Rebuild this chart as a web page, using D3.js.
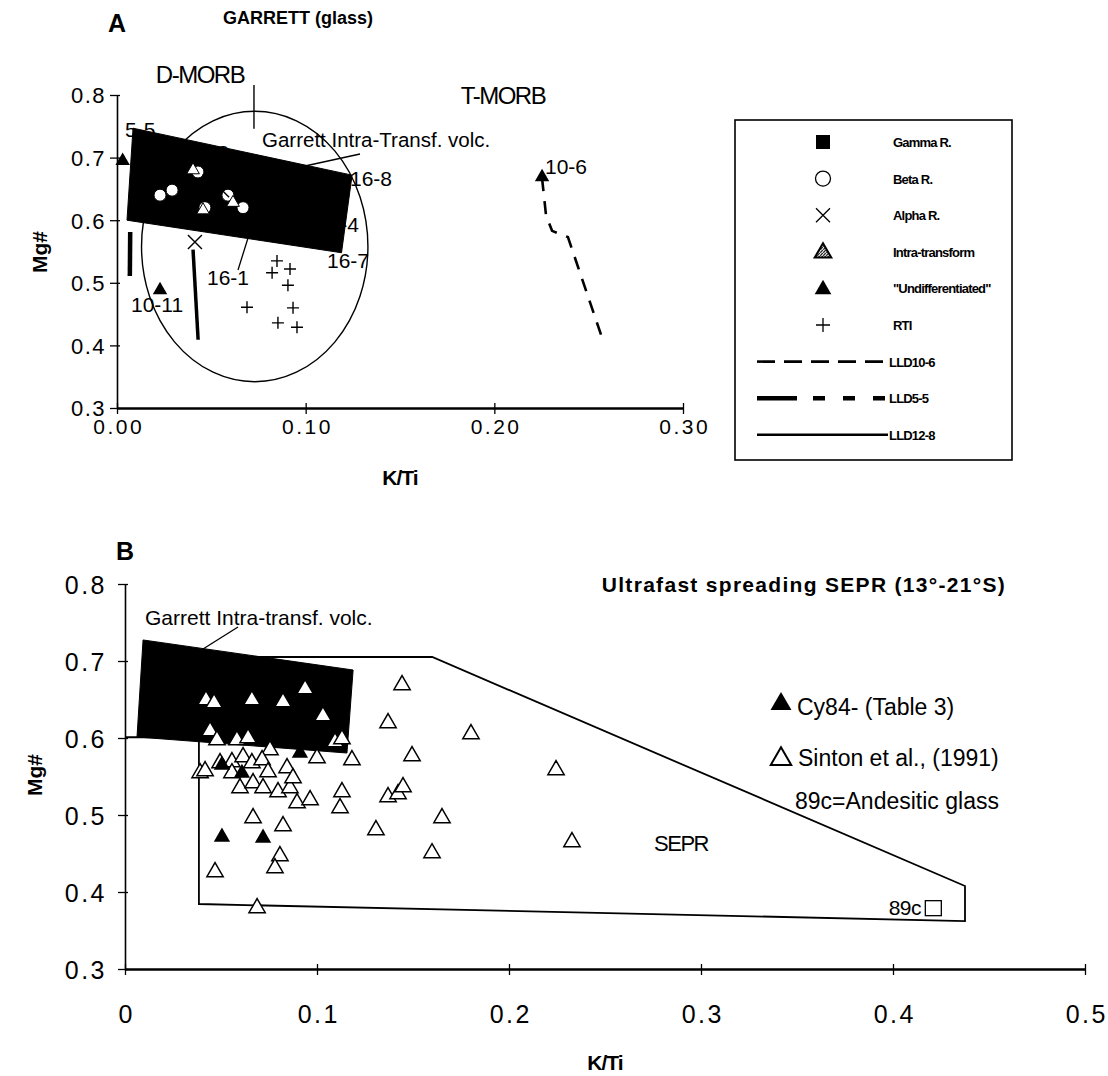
<!DOCTYPE html>
<html>
<head>
<meta charset="utf-8">
<script src="https://cdn.jsdelivr.net/npm/d3@7/dist/d3.min.js"></script>
<style>
  body { margin: 0; background: #fff; }
  svg { display: block; }
  text { font-family: "Liberation Sans", Arial, Helvetica, sans-serif; fill: #000; }
</style>
</head>
<body>
<svg id="chart" width="1108" height="1076"></svg>
<script>
// ---------- data (K/Ti, Mg#) ----------
const yTicks = [0.3, 0.4, 0.5, 0.6, 0.7, 0.8];
const xTicksA = [0, 0.1, 0.2, 0.3];
const xTicksB = [0, 0.1, 0.2, 0.3, 0.4, 0.5];

// panel A
const dmorbEllipse = [0.073, 0.558, 0.060, 0.216]; // cx, cy, rx, ry
const dmorbLeader = [[0.0726, 0.816], [0.0726, 0.746]];
const garrettFieldA = [[0.0085, 0.747], [0.1246, 0.672], [0.119, 0.548], [0.0053, 0.600]];
const betaA = [[0.0228, 0.640], [0.0292, 0.648], [0.0429, 0.677], [0.0466, 0.620], [0.0588, 0.640], [0.0668, 0.620]];
const alphaA = [[0.0557, 0.648], [0.0599, 0.597], [0.0413, 0.565], [0.049, 0.662]];
const intraA = [[0.0403, 0.680], [0.0456, 0.616], [0.0615, 0.628]];
const undiffA = [[0.003, 0.695], [0.0228, 0.4885], [0.2253, 0.669]];
const rtiA = [[0.0848, 0.535], [0.0917, 0.522], [0.0822, 0.516], [0.0906, 0.496],
              [0.0689, 0.461], [0.0933, 0.460], [0.0853, 0.436], [0.0954, 0.429]];
const lld10_6 = [[0.2253, 0.667], [0.2274, 0.608], [0.2306, 0.583], [0.239, 0.573], [0.257, 0.413]];
const lld5_5 = [[0.0068, 0.511], [0.0070, 0.583]];
const lld12_8 = [[0.0403, 0.553], [0.0430, 0.409]];
const sampleLabelsA = ["5-5", "12-8", "16-8", "16-4", "16-7", "16-1", "10-11", "10-6"];
const legendA = ["Gamma R.", "Beta R.", "Alpha R.", "Intra-transform", "\"Undifferentiated\"", "RTI", "LLD10-6", "LLD5-5", "LLD12-8"];

// panel B
const garrettFieldB = [[0.0094, 0.7273], [0.1188, 0.6883], [0.1156, 0.5805], [0.00625, 0.6013]];
const seprField = [[0.0, 0.601], [0.0385, 0.601], [0.0385, 0.3844], [0.4375, 0.3623], [0.4375, 0.4078], [0.160, 0.7052], [0.01, 0.7052]];
const sinton = [
  [0.0422, 0.6494], [0.0464, 0.6455], [0.0661, 0.6494], [0.0823, 0.6468], [0.0938, 0.6636], [0.1031, 0.6286],
  [0.0443, 0.6091], [0.0479, 0.5974], [0.0583, 0.5974], [0.0641, 0.6000], [0.0755, 0.5844], [0.1094, 0.5948],
  [0.1130, 0.5987], [0.1000, 0.5740], [0.1182, 0.5714], [0.0391, 0.5545], [0.0417, 0.5571], [0.0495, 0.5675],
  [0.0557, 0.5688], [0.0615, 0.5753], [0.0661, 0.5675], [0.0714, 0.5714], [0.0844, 0.5610], [0.0557, 0.5545],
  [0.0599, 0.5351], [0.0667, 0.5416], [0.0719, 0.5351], [0.0745, 0.5558], [0.0797, 0.5299], [0.0859, 0.5351],
  [0.0875, 0.5481], [0.0896, 0.5156], [0.0964, 0.5195], [0.1130, 0.5299], [0.1120, 0.5091], [0.0667, 0.4961],
  [0.0823, 0.4857], [0.1443, 0.6688], [0.1370, 0.6195], [0.1802, 0.6052], [0.1495, 0.5766], [0.1307, 0.4805],
  [0.1370, 0.5234], [0.1422, 0.5273], [0.1448, 0.5364], [0.1651, 0.4961], [0.1599, 0.4506], [0.2245, 0.5584],
  [0.2328, 0.4649], [0.0807, 0.4468], [0.0781, 0.4312], [0.0469, 0.4260], [0.0688, 0.3792]
];
const cy84 = [[0.0505, 0.4714], [0.0719, 0.4701], [0.0505, 0.565], [0.0609, 0.5545], [0.0911, 0.5805]];
const andesite89c = [[0.421, 0.379]];
const legendB = ["Cy84- (Table 3)", "Sinton et al., (1991)", "89c=Andesitic glass"];

// ---------- setup ----------
const svg = d3.select("#chart");
const xA = d3.scaleLinear().domain([0, 0.3]).range([117, 683]);
const yA = d3.scaleLinear().domain([0.3, 0.8]).range([408, 95]);
const xB = d3.scaleLinear().domain([0, 0.5]).range([125, 1085]);
const yB = d3.scaleLinear().domain([0.3, 0.8]).range([969, 584]);

const tri = (s) => d3.symbol().type(d3.symbolTriangle).size(s)();
const crossPath = (r) => `M${-r},0H${r}M0,${-r}V${r}`;
const xPath = (r) => `M${-r},${-r}L${r},${r}M${-r},${r}L${r},${-r}`;

function drawAxes(x, y, xTicks, xFmt, o) {
  const gy = svg.append("g").attr("transform", `translate(${x.range()[0]},0)`)
    .call(d3.axisLeft(y).tickValues(yTicks).tickFormat(d3.format(".1f")).tickSize(7).tickSizeOuter(0));
  gy.select(".domain").attr("stroke-width", 1.6);
  gy.selectAll(".tick line").attr("x1", 3).attr("stroke-width", 1.3);
  gy.selectAll(".tick text").attr("x", o.yLabelX).attr("dy", "0.36em")
    .style("font-size", o.yfs + "px").style("letter-spacing", o.yls + "px");

  const gx = svg.append("g").attr("transform", `translate(0,${y.range()[0]})`)
    .call(d3.axisBottom(x).tickValues(xTicks).tickFormat(xFmt).tickSize(6).tickSizeOuter(0));
  gx.select(".domain").attr("stroke-width", 2.6);
  gx.selectAll(".tick line").attr("y1", -5).attr("stroke-width", 1.3);
  gx.selectAll(".tick text").attr("y", o.xLabelY).attr("dy", "0.71em").attr("dx", o.xls / 2)
    .style("font-size", o.xfs + "px").style("letter-spacing", o.xls + "px");
  svg.selectAll(".tick text").attr("fill", "#000")
    .style("font-family", "Liberation Sans, Arial, sans-serif");
}

function label(x, y, txt, opts = {}) {
  const t = svg.append("text").attr("x", x).attr("y", y).text(txt)
    .style("font-size", (opts.size || 21) + "px")
    .attr("text-anchor", opts.anchor || "start");
  if (opts.bold) t.style("font-weight", "bold");
  if (opts.ls) t.style("letter-spacing", opts.ls + "px");
  if (opts.rotate) t.attr("transform", `rotate(-90,${x},${y})`);
  return t;
}

// hatch pattern for intra-transform legend symbol
const defs = svg.append("defs");
defs.append("pattern").attr("id", "hatch").attr("width", 3).attr("height", 3)
  .attr("patternUnits", "userSpaceOnUse")
  .append("path").attr("d", "M0,3L3,0").attr("stroke", "#000").attr("stroke-width", 1.2);

// ================= PANEL A =================
label(117, 32, "A", { size: 25, bold: true, anchor: "middle" });
label(298, 24, "GARRETT (glass)", { size: 18, bold: true, anchor: "middle" });

drawAxes(xA, yA, xTicksA, d3.format(".2f"), { yLabelX: -11, yfs: 22, yls: 1.5, xLabelY: 11, xfs: 21, xls: 2.5 });
label(400, 485, "K/Ti", { size: 21, bold: true, anchor: "middle", ls: -1 });
label(47, 252, "Mg#", { size: 21, bold: true, anchor: "middle", rotate: true });

// D-MORB ellipse
const [ecx, ecy, erx, ery] = dmorbEllipse;
svg.append("ellipse")
  .attr("cx", xA(ecx)).attr("cy", yA(ecy))
  .attr("rx", xA(ecx + erx) - xA(ecx)).attr("ry", yA(ecy) - yA(ecy + ery))
  .attr("fill", "none").attr("stroke", "#000").attr("stroke-width", 1.4);
const lineA = d3.line().x(d => xA(d[0])).y(d => yA(d[1]));
svg.append("path").attr("d", lineA(dmorbLeader)).attr("stroke", "#000").attr("stroke-width", 1.4);
label(200, 83, "D-MORB", { size: 24, anchor: "middle", ls: -1.5 });
label(503, 104, "T-MORB", { size: 24, anchor: "middle", ls: -1.5 });

// labels that sit partly under the field
label(229, 160, sampleLabelsA[1], { anchor: "end" });
label(359, 232, sampleLabelsA[3], { anchor: "end" });

// LLD lines
svg.append("path").attr("d", lineA(lld10_6)).attr("fill", "none")
  .attr("stroke", "#000").attr("stroke-width", 2.6).attr("stroke-dasharray", "13,10");
svg.append("path").attr("d", lineA(lld5_5)).attr("fill", "none")
  .attr("stroke", "#000").attr("stroke-width", 4.5).attr("stroke-dasharray", "44,12,12,12");
svg.append("path").attr("d", lineA(lld12_8)).attr("fill", "none")
  .attr("stroke", "#000").attr("stroke-width", 3.5);

// RTI crosses
svg.append("g").selectAll("path").data(rtiA).join("path")
  .attr("transform", d => `translate(${xA(d[0])},${yA(d[1])})`)
  .attr("d", crossPath(6)).attr("stroke", "#000").attr("stroke-width", 1.4);

// Garrett intra-transform field
svg.append("path").attr("d", lineA(garrettFieldA) + "Z").attr("fill", "#000").attr("stroke", "#000");

// markers on top of field
svg.append("g").selectAll("circle").data(betaA).join("circle")
  .attr("cx", d => xA(d[0])).attr("cy", d => yA(d[1])).attr("r", 6)
  .attr("fill", "#fff").attr("stroke", "#000").attr("stroke-width", 1);
svg.append("g").selectAll("path").data(intraA).join("path")
  .attr("transform", d => `translate(${xA(d[0])},${yA(d[1])})`)
  .attr("d", tri(70)).attr("fill", "#fff").attr("stroke", "#000").attr("stroke-width", 1);
svg.append("g").selectAll("path").data(alphaA).join("path")
  .attr("transform", d => `translate(${xA(d[0])},${yA(d[1])})`)
  .attr("d", xPath(7)).attr("stroke", "#000").attr("stroke-width", 1.4);
svg.append("g").selectAll("path").data(undiffA).join("path")
  .attr("transform", d => `translate(${xA(d[0])},${yA(d[1])})`)
  .attr("d", tri(90)).attr("fill", "#000");

// labels and leaders
label(125, 137, sampleLabelsA[0]);
label(262, 147, "Garrett Intra-Transf. volc.", { size: 20.5 });
svg.append("path").attr("d", "M360,154L305,166").attr("stroke", "#000").attr("stroke-width", 1.3);
label(350, 186, sampleLabelsA[2]);
label(327, 268, sampleLabelsA[4]);
label(207, 285, sampleLabelsA[5]);
svg.append("path").attr("d", "M238,270L248,238").attr("stroke", "#000").attr("stroke-width", 1.3);
label(131, 312, sampleLabelsA[6]);
label(545, 174, sampleLabelsA[7]);

// legend A
const lg = svg.append("g");
lg.append("rect").attr("x", 735).attr("y", 120).attr("width", 277).attr("height", 340)
  .attr("fill", "#fff").attr("stroke", "#000").attr("stroke-width", 1.6);
const ly = (i) => 142 + i * 36.6;
const sx = 823;
lg.append("rect").attr("x", sx - 7).attr("y", ly(0) - 7).attr("width", 14).attr("height", 14).attr("fill", "#000");
lg.append("circle").attr("cx", sx).attr("cy", ly(1)).attr("r", 7.5).attr("fill", "#fff").attr("stroke", "#000").attr("stroke-width", 1.3);
lg.append("path").attr("transform", `translate(${sx},${ly(2)})`).attr("d", xPath(7)).attr("stroke", "#000").attr("stroke-width", 1.3);
lg.append("path").attr("transform", `translate(${sx},${ly(3) + 1})`).attr("d", tri(120)).attr("fill", "url(#hatch)").attr("stroke", "#000").attr("stroke-width", 2);
lg.append("path").attr("transform", `translate(${sx},${ly(4) + 1})`).attr("d", tri(120)).attr("fill", "#000");
lg.append("path").attr("transform", `translate(${sx},${ly(5)})`).attr("d", crossPath(7)).attr("stroke", "#000").attr("stroke-width", 1.3);
lg.append("line").attr("x1", 757).attr("x2", 888).attr("y1", ly(6)).attr("y2", ly(6))
  .attr("stroke", "#000").attr("stroke-width", 2.6).attr("stroke-dasharray", "18,9");
lg.append("line").attr("x1", 757).attr("x2", 888).attr("y1", ly(7)).attr("y2", ly(7))
  .attr("stroke", "#000").attr("stroke-width", 4.5).attr("stroke-dasharray", "40,16,12,18,12,18,12");
lg.append("line").attr("x1", 757).attr("x2", 888).attr("y1", ly(8)).attr("y2", ly(8))
  .attr("stroke", "#000").attr("stroke-width", 2.6);
legendA.forEach((t, i) => {
  lg.append("text").attr("x", i < 6 ? 893 : 889).attr("y", ly(i) + 5).text(t)
    .style("font-size", "13px").style("font-weight", "bold").style("letter-spacing", "-0.8px");
});

// ================= PANEL B =================
label(125, 560, "B", { size: 25, bold: true, anchor: "middle" });
label(1006, 592, "Ultrafast spreading SEPR (13°-21°S)", { size: 21, bold: true, anchor: "end", ls: 1.3 });

drawAxes(xB, yB, xTicksB, d => d === 0 ? "0" : d3.format(".1f")(d),
  { yLabelX: -18, yfs: 25, yls: 2.5, xLabelY: 36, xfs: 25, xls: 2.5 });
label(605, 1070, "K/Ti", { size: 21, bold: true, anchor: "middle", ls: -1 });
label(42, 775, "Mg#", { size: 21, bold: true, anchor: "middle", rotate: true });

const lineB = d3.line().x(d => xB(d[0])).y(d => yB(d[1]));
svg.append("path").attr("d", lineB(seprField)).attr("fill", "none")
  .attr("stroke", "#000").attr("stroke-width", 1.8);
svg.append("path").attr("d", lineB(garrettFieldB) + "Z").attr("fill", "#000").attr("stroke", "#000");

svg.append("g").selectAll("path").data(sinton).join("path")
  .attr("transform", d => `translate(${xB(d[0])},${yB(d[1])})`)
  .attr("d", tri(115)).attr("fill", "#fff").attr("stroke", "#000").attr("stroke-width", 1.5);
svg.append("g").selectAll("path").data(cy84).join("path")
  .attr("transform", d => `translate(${xB(d[0])},${yB(d[1])})`)
  .attr("d", tri(115)).attr("fill", "#000");
svg.append("g").selectAll("rect").data(andesite89c).join("rect")
  .attr("x", d => xB(d[0]) - 8).attr("y", d => yB(d[1]) - 7.5).attr("width", 16).attr("height", 15)
  .attr("fill", "#fff").attr("stroke", "#000").attr("stroke-width", 1.3);
label(921, 915, "89c", { size: 21, anchor: "end", ls: -0.5 });

label(145, 625, "Garrett Intra-transf. volc.", { size: 21 });
svg.append("path").attr("d", "M238,627L203,649").attr("stroke", "#000").attr("stroke-width", 1.3);
label(681, 851, "SEPR", { size: 22, anchor: "middle", ls: -1.5 });

// legend B
svg.append("path").attr("transform", "translate(781,704)").attr("d", tri(190)).attr("fill", "#000");
svg.append("path").attr("transform", "translate(781,759)").attr("d", tri(180))
  .attr("fill", "#fff").attr("stroke", "#000").attr("stroke-width", 2);
label(797, 715, legendB[0], { size: 23 });
label(798, 766, legendB[1], { size: 23 });
label(795, 809, legendB[2], { size: 23 });
</script>
</body>
</html>
